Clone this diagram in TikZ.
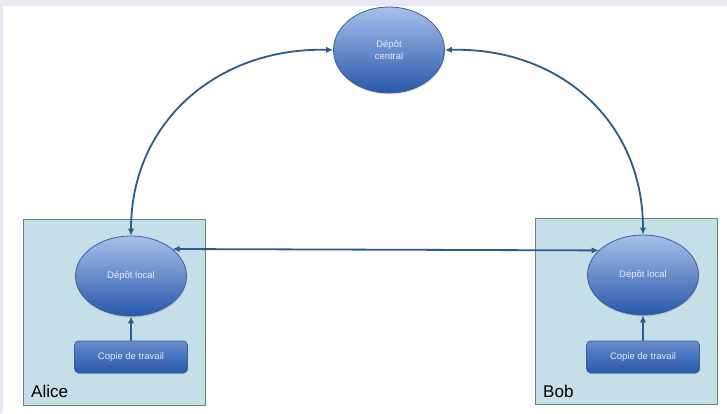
\documentclass[tikz,border=0pt]{standalone}
\usepackage{fontspec}
\setmainfont{Liberation Sans}
\usetikzlibrary{arrows.meta,shapes.geometric,shadows}
\definecolor{bgl}{HTML}{E9E9F5}
\definecolor{boxfill}{HTML}{C5DEE8}
\definecolor{boxline}{HTML}{6E7C84}
\definecolor{arr}{HTML}{2D5B8C}
\definecolor{elltop}{HTML}{A8C0EA}
\definecolor{ellbot}{HTML}{2858AB}
\definecolor{ellline}{HTML}{3A5E9C}
\colorlet{copytop}{ellbot!50!elltop}
\tikzset{
  repo/.style={ellipse, draw=ellline, line width=0.8pt, top color=elltop, bottom color=ellbot,
    minimum width=111pt, minimum height=80pt, inner sep=0pt, text=white!92!blue, font=\fontsize{9.5}{12}\selectfont,
    align=center, drop shadow={shadow xshift=0.5pt, shadow yshift=-1.5pt, opacity=0.25}},
  copybox/.style={rectangle, rounded corners=4pt, draw=ellline, line width=0.6pt, top color=copytop,
    bottom color=ellbot, minimum width=113pt, minimum height=32pt, text=white!92!blue,
    font=\fontsize{9.5}{12}\selectfont, drop shadow={shadow xshift=0.5pt, shadow yshift=-1pt, opacity=0.2}},
  person/.style={rectangle, draw=boxline, line width=0.8pt, fill=boxfill, minimum width=182pt, minimum height=186pt, inner sep=0pt},
  link/.style={draw=arr, line width=1.8pt, {Latex[length=7pt,width=6.5pt]}-{Latex[length=7pt,width=6.5pt]}},
  push/.style={draw=arr, line width=1.8pt, -{Latex[length=7pt,width=6.5pt]}},
  who/.style={font=\fontsize{17}{20}\selectfont, anchor=base west, inner sep=0pt}
}
\begin{document}
\begin{tikzpicture}[x=1pt,y=-1pt]
\fill[bgl] (0,0) rectangle (727,413);
\fill[white] (3,6) rectangle (727,413);
\useasboundingbox (0,0) rectangle (727,413);
% person boxes
\node[person] (alicebox) at (114,312) {};
\node[person] (bobbox) at (626,311) {};
\node[who] (alice) at (31,397) {Alice};
\node[who] (bob) at (543,397) {Bob};
% repositories
\node[repo, minimum height=86pt] (central) at (389,50) {Dépôt\\central};
\node[repo] (alocal) at (131,276) {Dépôt local};
\node[repo] (blocal) at (643,275) {Dépôt local};
\node[copybox] (acopy) at (131,357) {Copie de travail};
\node[copybox] (bcopy) at (643,357) {Copie de travail};
% connectors
\draw[link] (alocal.north) .. controls (131,120) and (220,47) .. (central.west);
\draw[link] (blocal.north) .. controls (643,120) and (558,47) .. (central.east);
\draw[link] (alocal.33) -- (blocal.151);
\draw[push] (acopy.north) -- (alocal.south);
\draw[push] (bcopy.north) -- (blocal.south);
\end{tikzpicture}
\end{document}
